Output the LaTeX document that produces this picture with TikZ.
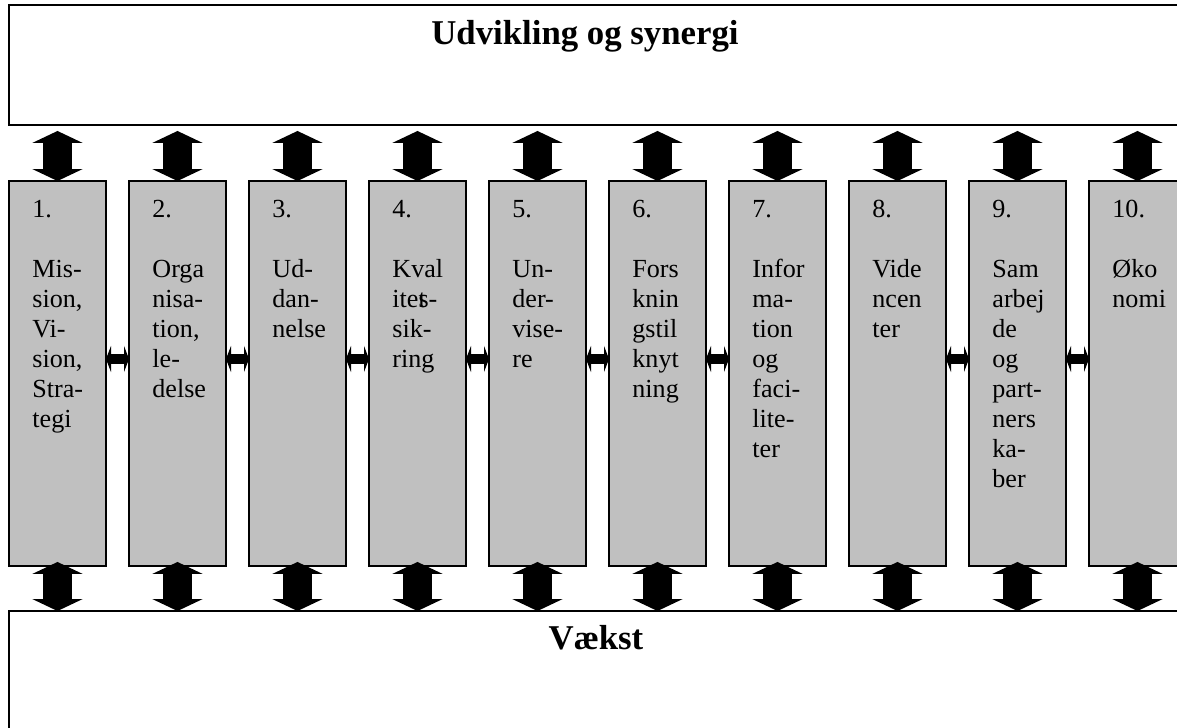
\documentclass[tikz,border=0pt]{standalone}
\usepackage{fontspec}
\setmainfont{Liberation Serif}
\usetikzlibrary{positioning,arrows.meta}
\definecolor{boxgray}{HTML}{C0C0C0}
\newcommand{\pxu}{0.46pt}

\tikzset{
  frame/.style={draw, line width=0.8pt, anchor=north west, inner sep=0pt, outer sep=0pt},
  bigbox/.style={frame, minimum width=1190*\pxu, minimum height=140*\pxu},
  colbox/.style={frame, fill=boxgray, minimum width=97*\pxu, minimum height=385*\pxu},
  coltext/.style={anchor=north west, align=left, inner sep=0pt, xshift=23*\pxu, yshift=-6.9pt,
    font=\fontsize{12}{13.8}\selectfont},
  title/.style={anchor=base, inner sep=0pt, font=\fontsize{16}{19}\selectfont\bfseries},
  vblock/.style={line width=12.9pt, {Triangle[width=23pt,length=5.5pt]}-{Triangle[width=23pt,length=5.5pt]}},
  hblock/.style={line width=5pt, {Triangle[width=12pt,length=2.3pt]}-{Triangle[width=12pt,length=2.3pt]}}
}

\begin{document}
\begin{tikzpicture}[x=\pxu, y=-\pxu]
  \useasboundingbox (0,0) rectangle (1177,728);
  \clip (0,0) rectangle (1177,728);

  % top and bottom boxes
  \node[bigbox, minimum height=120*\pxu] (top) at (9,5) {};
  \node[title] (toptitle) at (585,45) {Udvikling og synergi};
  \node[bigbox] (bottom) at (9,611) {};
  \node[title] (bottomtitle) at (596,650) {Vækst};

  \coordinate (hmid) at (0,359);

  % the ten columns
  \foreach \i/\txt in {
    1/{1.\\[13.8pt]Mis-\\sion,\\Vi-\\sion,\\Stra-\\tegi},
    2/{2.\\[13.8pt]Orga\\nisa-\\tion,\\le-\\delse},
    3/{3.\\[13.8pt]Ud-\\dan-\\nelse},
    4/{4.\\[13.8pt]Kval\\ite\rlap{t}s-\\sik-\\ring},
    5/{5.\\[13.8pt]Un-\\der-\\vise-\\re},
    6/{6.\\[13.8pt]Fors\\knin\\gstil\\knyt\\ning},
    7/{7.\\[13.8pt]Infor\\ma-\\tion\\og\\faci-\\lite-\\ter},
    8/{8.\\[13.8pt]Vide\\ncen\\ter},
    9/{9.\\[13.8pt]Sam\\arbej\\de\\og\\part-\\ners\\ka-\\ber},
    10/{10.\\[13.8pt]Øko\\nomi}}{
    \node[colbox] (c\i) at ({9+120*(\i-1)},181) {};
    \node[coltext] (t\i) at (c\i.north west) {\strut\txt};
    \draw[vblock] ([yshift=-6*\pxu]top.south -| c\i.north) -- (c\i.north);
    \draw[vblock] ([yshift=4*\pxu]c\i.south) -- (c\i.south |- bottom.north);
  }

  % links between neighbouring columns
  \foreach \a/\b in {1/2,2/3,3/4,4/5,5/6,6/7,8/9,9/10}
    \draw[hblock] (c\a.east |- hmid) -- (c\b.west |- hmid);
\end{tikzpicture}
\end{document}
